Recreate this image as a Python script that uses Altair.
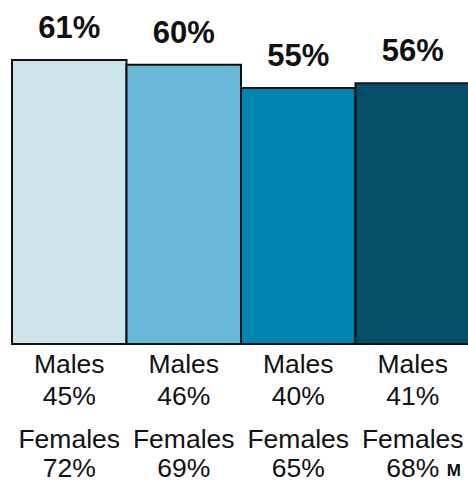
import altair as alt
import pandas as pd

# Overall share per group, with the male / female breakdown shown underneath
groups = ["G1", "G2", "G3", "G4"]
overall = [61, 60, 55, 56]
males = [45, 46, 40, 41]
females = [72, 69, 65, 68]
colors = ["#CCE5EC", "#67B8D6", "#0085B0", "#044E6A"]
note_group = "G4"
note_text = "M"

df = pd.DataFrame({
    "group": groups,
    "overall": overall,
    "base": [0] * len(groups),
    "top_label": [f"{v}%" for v in overall],
    "male_pct": [f"{v}%" for v in males],
    "female_pct": [f"{v}%" for v in females],
    "male_word": ["Males"] * len(groups),
    "female_word": ["Females"] * len(groups),
})

x = alt.X("group:N", sort=groups, axis=None,
          scale=alt.Scale(range=[12, 470], paddingInner=0, paddingOuter=0))
y_scale = alt.Scale(domain=[-29.85, 73.88], nice=False, zero=False)

base = alt.Chart(df)

bars = base.mark_bar(stroke="#111111", strokeWidth=2, clip=False).encode(
    x=x,
    y=alt.Y("overall:Q", scale=y_scale, axis=None),
    y2="base:Q",
    color=alt.Color("group:N", scale=alt.Scale(domain=groups, range=colors), legend=None),
)

top_labels = base.mark_text(font="Liberation Sans", fontWeight="bold", fontSize=31,
                            baseline="alphabetic", dy=-22, color="#111111").encode(
    x=x, y=alt.Y("overall:Q", scale=y_scale), text="top_label:N")


def under(field, dy):
    return base.mark_text(font="Liberation Sans", fontSize=26.5, baseline="alphabetic",
                          dy=dy, color="#111111").encode(
        x=x, y=alt.Y("base:Q", scale=y_scale), text=f"{field}:N")


note = alt.Chart(pd.DataFrame({"group": [note_group], "base": [0], "t": [note_text]})).mark_text(
    font="Liberation Sans", fontWeight="bold", fontSize=17, baseline="alphabetic",
    align="left", dx=34, dy=132, color="#111111").encode(
    x=x, y=alt.Y("base:Q", scale=y_scale), text="t:N")

chart = alt.layer(
    bars, top_labels,
    under("male_word", 29), under("male_pct", 61),
    under("female_word", 104), under("female_pct", 133),
    note,
).properties(
    width=468, height=483, padding=0,
    autosize=alt.AutoSizeParams(type="none"),
).configure_view(stroke=None)

chart.save("out.html", embed_options={"renderer": "svg", "actions": False})
